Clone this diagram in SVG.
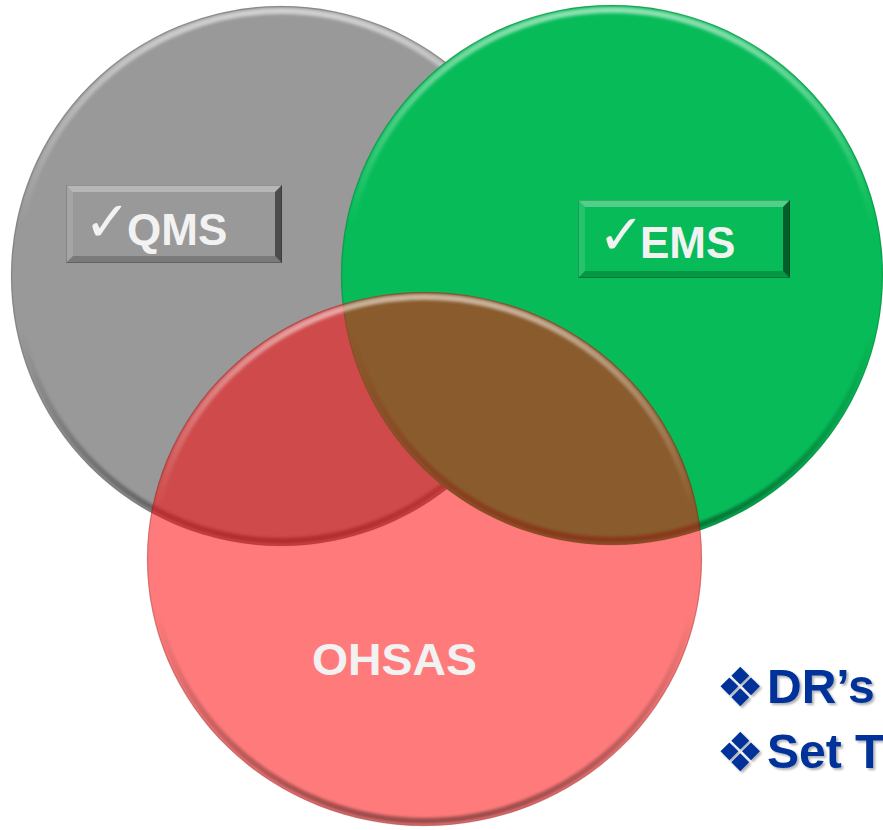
<svg xmlns="http://www.w3.org/2000/svg" width="883" height="830" viewBox="0 0 883 830">
<style>
.lbl{font-family:"Liberation Sans",Arial,sans-serif;font-weight:bold;fill:#F2F2F2}
.chk{font-family:"DejaVu Sans",sans-serif;fill:#F2F2F2}
.blue{font-family:"Liberation Sans",Arial,sans-serif;font-weight:bold;fill:#003399;font-size:48px}
.dia{font-family:"DejaVu Sans",sans-serif;fill:#003399;font-size:54px}
.rim{fill:none;stroke:url(#rim);stroke-width:6;filter:url(#soft)}
.edge{fill:none;stroke:#000;stroke-opacity:0.14;stroke-width:1.5}
.bt{fill:#fff;fill-opacity:0.3}
.bl{fill:#fff;fill-opacity:0.12}
.bb{fill:#000;fill-opacity:0.2}
.br{fill:#000;fill-opacity:0.5}
.bo{fill:none;stroke:#000;stroke-opacity:0.2;stroke-width:1}
</style>
<defs>
<linearGradient id="rim" x1="0" y1="0" x2="0" y2="1">
<stop offset="0" stop-color="#fff" stop-opacity="0.55"/>
<stop offset="0.4" stop-color="#fff" stop-opacity="0"/>
<stop offset="0.6" stop-color="#000" stop-opacity="0"/>
<stop offset="1" stop-color="#000" stop-opacity="0.4"/>
</linearGradient>
<filter id="soft" x="-5%" y="-5%" width="110%" height="110%"><feGaussianBlur stdDeviation="1.5"/></filter>
<filter id="tshadow" x="-10%" y="-20%" width="130%" height="150%"><feDropShadow dx="2" dy="2" stdDeviation="1.2" flood-color="#000" flood-opacity="0.3"/></filter>
</defs>
<rect width="883" height="830" fill="#fff"/>
<g id="qms-circle">
<ellipse cx="281" cy="276" rx="270" ry="270" fill="#999999"/>
<ellipse cx="281" cy="276" rx="265" ry="265" class="rim"/>
<ellipse cx="281" cy="276" rx="269.5" ry="269.5" class="edge"/>
</g>
<g id="ems-circle">
<ellipse cx="612" cy="275" rx="271" ry="270" fill="#07BC58"/>
<ellipse cx="612" cy="275" rx="266" ry="265" class="rim"/>
<ellipse cx="612" cy="275" rx="270.5" ry="269.5" class="edge"/>
</g>
<g id="ohsas-circle">
<ellipse cx="424.5" cy="559" rx="277.5" ry="267" fill="#FF0606" fill-opacity="0.53"/>
<ellipse cx="424.5" cy="559" rx="272.5" ry="262" class="rim"/>
<ellipse cx="424.5" cy="559" rx="277" ry="266.5" class="edge"/>
<text class="lbl" x="312" y="675" font-size="44" textLength="165" lengthAdjust="spacingAndGlyphs">OHSAS</text>
</g>
<g id="qms-box">
<rect x="66" y="185" width="216" height="78" fill="#999999"/>
<polygon class="bt" points="66,185 282,185 275,192 73,192"/>
<polygon class="bl" points="66,185 73,192 73,256 66,263"/>
<polygon class="bb" points="66,263 73,256 275,256 282,263"/>
<polygon class="br" points="282,185 275,192 275,256 282,263"/>
<rect class="bo" x="66.5" y="185.5" width="215" height="77"/>
<text class="chk" x="84" y="241" font-size="56">✓</text>
<text class="lbl" x="127" y="245" font-size="44">QMS</text>
</g>
<g id="ems-box">
<rect x="578" y="200" width="212" height="78" fill="#07BC58"/>
<polygon class="bt" points="578,200 790,200 783,207 585,207"/>
<polygon class="bl" points="578,200 585,207 585,271 578,278"/>
<polygon class="bb" points="578,278 585,271 783,271 790,278"/>
<polygon class="br" points="790,200 783,207 783,271 790,278"/>
<rect class="bo" x="578.5" y="200.5" width="211" height="77"/>
<text class="chk" x="598" y="254" font-size="56">✓</text>
<text class="lbl" x="640" y="258" font-size="44">EMS</text>
</g>
<g id="notes" filter="url(#tshadow)">
<text class="dia" x="716" y="706">❖</text>
<text class="blue" x="767" y="703">DR’s</text>
<text class="dia" x="716" y="771">❖</text>
<text class="blue" x="767" y="768">Set T</text>
</g>
</svg>
